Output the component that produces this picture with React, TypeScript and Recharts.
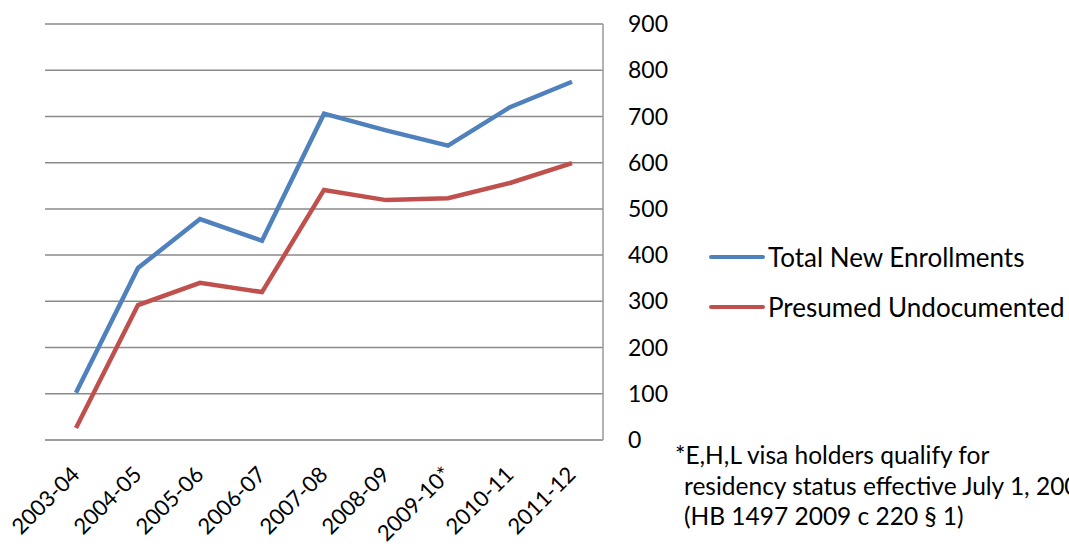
import { CartesianGrid, Line, LineChart, XAxis, YAxis } from 'recharts';

const years = [
  '2003-04',
  '2004-05',
  '2005-06',
  '2006-07',
  '2007-08',
  '2008-09',
  '2009-10*',
  '2010-11',
  '2011-12',
];
const totalNew = [102, 372, 478, 431, 706, 670, 637, 720, 775];
const undocumented = [26, 292, 340, 320, 541, 519, 523, 556, 599];
const yTicks = [0, 100, 200, 300, 400, 500, 600, 700, 800, 900];

const data = years.map((year, i) => ({
  year,
  total: totalNew[i],
  undoc: undocumented[i],
}));

const FONT = 'Lato, "Open Sans", sans-serif';
const BLUE = '#4F81BD';
const RED = '#C0504D';

function YearTick(props: any) {
  const { x, y, payload } = props;
  const ax = x + 1;
  const ay = y + 24;
  return (
    <text
      x={ax}
      y={ay}
      transform={`rotate(-45, ${ax}, ${ay})`}
      textAnchor="end"
      dominantBaseline="middle"
      fontSize={22}
      fill="#000"
      fontFamily={FONT}
    >
      {payload.value}
    </text>
  );
}

const legendItems = [
  { label: 'Total New Enrollments', color: BLUE },
  { label: 'Presumed Undocumented', color: RED },
];

export default function App() {
  return (
    <div
      style={{
        position: 'fixed',
        left: 0,
        top: 0,
        width: 1069,
        height: 544,
        overflow: 'hidden',
        background: '#fff',
      }}
    >
      <LineChart
        width={1069}
        height={544}
        data={data}
        margin={{ top: 24, left: 45, right: 406, bottom: 0 }}
      >
        <CartesianGrid vertical={false} stroke="#8a8a8a" strokeWidth={1.5} />
        <XAxis
          dataKey="year"
          interval={0}
          tick={<YearTick />}
          tickLine={false}
          padding={{ left: 31, right: 31 }}
          axisLine={{ stroke: '#9a9a9a', strokeWidth: 1.5 }}
          height={104}
        />
        <YAxis
          orientation="right"
          domain={[0, 900]}
          ticks={yTicks}
          interval={0}
          width={60}
          tickLine={false}
          tickSize={0}
          tickMargin={25}
          axisLine={{ stroke: '#9a9a9a', strokeWidth: 1.5 }}
          tick={{ fontSize: 23, fill: '#000', fontFamily: FONT, textAnchor: 'start' }}
        />
        <Line
          type="linear"
          dataKey="total"
          stroke={BLUE}
          strokeWidth={4.5}
          dot={false}
          isAnimationActive={false}
        />
        <Line
          type="linear"
          dataKey="undoc"
          stroke={RED}
          strokeWidth={4.5}
          dot={false}
          isAnimationActive={false}
        />
      </LineChart>
      <div
        style={{
          position: 'absolute',
          left: 709,
          top: 232,
          fontFamily: FONT,
          fontSize: 26,
          color: '#000',
        }}
      >
        {legendItems.map((it) => (
          <div key={it.label} style={{ display: 'flex', alignItems: 'center', height: 50 }}>
            <span
              style={{
                display: 'inline-block',
                width: 56,
                height: 4,
                borderRadius: 2,
                background: it.color,
                marginRight: 3,
              }}
            />
            <span style={{ whiteSpace: 'nowrap' }}>{it.label}</span>
          </div>
        ))}
      </div>
      <div
        style={{
          position: 'absolute',
          left: 675,
          top: 440,
          fontFamily: FONT,
          fontSize: 24.5,
          lineHeight: '30.5px',
          color: '#000',
          whiteSpace: 'nowrap',
        }}
      >
        <div>*E,H,L visa holders qualify for</div>
        <div style={{ paddingLeft: 9 }}>residency status effective July 1, 2009</div>
        <div style={{ paddingLeft: 9 }}>(HB 1497 2009 c 220 § 1)</div>
      </div>
    </div>
  );
}
